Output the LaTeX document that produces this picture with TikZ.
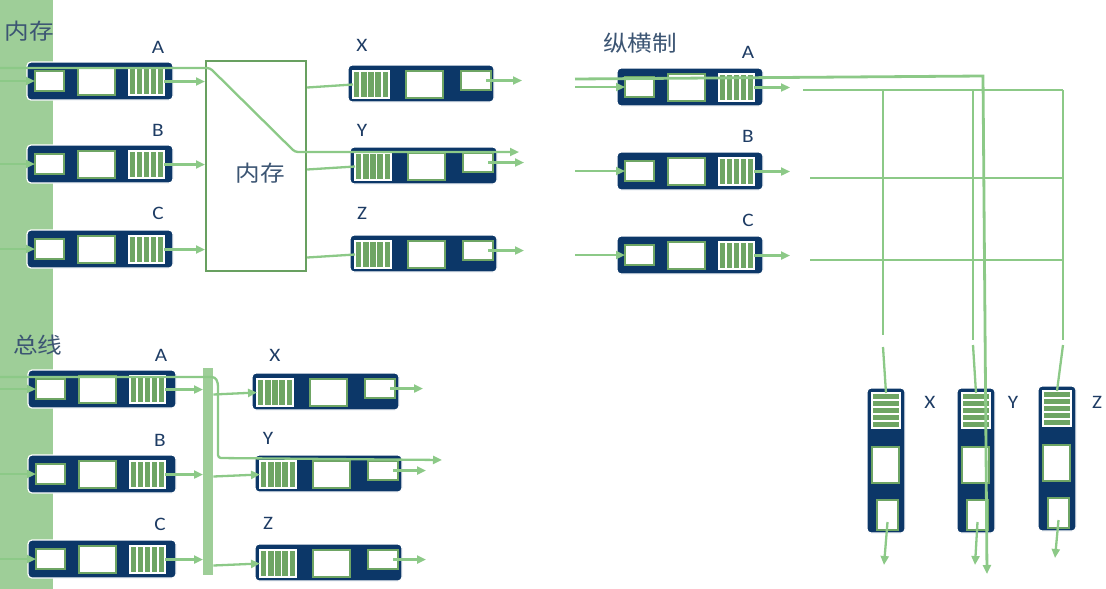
\documentclass[tikz,border=0pt]{standalone}
\usepackage{fontspec}
\setmainfont{Carlito}
\newfontfamily\cjk{Noto Sans CJK SC}
\usetikzlibrary{arrows.meta,calc}
\definecolor{navy}{RGB}{12,55,104}
\definecolor{lgreen}{RGB}{140,201,135}
\definecolor{strip}{RGB}{158,206,152}
\definecolor{dgreen}{RGB}{104,160,96}
\definecolor{sgreen}{RGB}{110,165,100}
\definecolor{txt}{RGB}{30,60,100}
\definecolor{cjktxt}{RGB}{60,85,115}
\newcommand{\wide}[1]{\scalebox{1.12}[1]{#1}}
\tikzset{
 unitbox/.style={fill=navy, draw=white, line width=1.2pt, rounded corners=4pt, inner sep=0, outer sep=0, anchor=north west},
 whitebox/.style={fill=white, draw=sgreen, line width=2pt, inner sep=0, outer sep=0, anchor=north west},
 stripebox/.style={fill=sgreen, draw=white, line width=1.8pt, inner sep=0, outer sep=0, anchor=north west},
 conn/.style={draw=lgreen, line width=2.3pt},
 arr/.style={conn, -{Triangle[length=9pt,width=8pt]}},
 gridline/.style={draw=lgreen, line width=1.8pt},
 lbl/.style={text=txt, font=\fontsize{19}{19}\selectfont, inner sep=0},
 cjklbl/.style={text=cjktxt, font=\cjk\fontsize{22}{22}\selectfont, inner sep=0},
}
\newcommand{\stripesV}[1]{\foreach \i in {1,...,4}{\draw[white,line width=1.7pt] ($(#1.north west)!\i/5!(#1.north east)$) -- ($(#1.south west)!\i/5!(#1.south east)$);}}
\newcommand{\stripesH}[1]{\foreach \i in {1,...,4}{\draw[white,line width=1.7pt] ($(#1.north west)!\i/5!(#1.south west)$) -- ($(#1.north east)!\i/5!(#1.south east)$);}}
\newcommand{\hin}[4]{%
 \node[unitbox, minimum width=#4pt, minimum height=38pt] (#1) at (#2,#3) {};
 \node[whitebox, minimum width=29pt, minimum height=20pt] (#1s) at (#2+8,#3+9) {};
 \node[whitebox, minimum width=37pt, minimum height=27pt] (#1m) at (#2+51,#3+6) {};
 \node[stripebox, minimum width=35pt, minimum height=27pt] (#1t) at (#2+102,#3+6) {};
 \stripesV{#1t}}
\newcommand{\hout}[4]{%
 \node[unitbox, minimum width=#4pt, minimum height=37pt] (#1) at (#2,#3) {};
 \node[stripebox, minimum width=36pt, minimum height=27pt] (#1t) at (#2+5,#3+6) {};
 \node[whitebox, minimum width=37pt, minimum height=27pt] (#1m) at (#2+58,#3+6) {};
 \node[whitebox, minimum width=30pt, minimum height=19pt] (#1s) at (#2+113,#3+6) {};
 \stripesV{#1t}}
\newcommand{\vout}[3]{%
 \node[unitbox, minimum width=38pt, minimum height=145pt] (#1) at (#2,#3) {};
 \node[stripebox, minimum width=28pt, minimum height=35pt] (#1t) at (#2+5,#3+5) {};
 \node[whitebox, minimum width=27pt, minimum height=36pt] (#1m) at (#2+5,#3+59) {};
 \node[whitebox, minimum width=21pt, minimum height=30pt] (#1s) at (#2+10,#3+112) {};
 \stripesH{#1t}}
\begin{document}
\begin{tikzpicture}[x=1pt,y=-1pt]
\useasboundingbox (0,0) rectangle (1106,589);
\fill[strip] (0,0) rectangle (53,589);
\coordinate (edgeL) at (0,0);
% ---------- top-left: memory switch ----------
\node[cjklbl] (tTitle) at (29,31) {\wide{内存}};
\hin{tA}{27}{62}{146}
\hin{tB}{27}{145}{146}
\hin{tC}{27}{230}{146}
\node[lbl] (tAl) at (158,47) {\wide{A}};
\node[lbl] (tBl) at (158,130) {\wide{B}};
\node[lbl] (tCl) at (158,213) {\wide{C}};
\node[draw=dgreen, line width=2.2pt, minimum width=100pt, minimum height=210pt, anchor=north west, inner sep=0] (mem) at (205,60) {};
\node[cjklbl] (memtxt) at (260,173) {\wide{内存}};
\hout{mX}{348}{65}{146}
\hout{mY}{350}{147}{147}
\hout{mZ}{350}{235}{147}
\node[lbl] (mXl) at (362,45) {\wide{X}};
\node[lbl] (mYl) at (362,130) {\wide{Y}};
\node[lbl] (mZl) at (362,213) {\wide{Z}};
\foreach \u in {tA,tB,tC}{
 \draw[arr] (edgeL |- \u s.west) -- (\u s.west);
 \draw[arr] (\u t.east) -- (mem.west |- \u t.east);}
\foreach \u in {mX,mY,mZ}{
 \draw[conn] ($(mem.east |- \u t.west)+(0,3)$) -- (\u t.west);
 \draw[arr] ($(\u s.east)+(-5,0)$) -- +(36,0);}
\coordinate (tl1) at (0,68);
\coordinate (tl2) at (210,68);
\coordinate (tl3) at (295,152);
\coordinate (tl4) at (519,152);
\draw[arr, rounded corners=3pt] (tl1) -- (tl2) -- (tl3) -- (tl4);
% ---------- crossbar ----------
\node[cjklbl] (cTitle) at (640,43) {\wide{纵横制}};
\hin{cA}{617}{68}{146}
\hin{cB}{617}{152}{146}
\hin{cC}{617}{236}{146}
\node[lbl] (cAl) at (748,52) {\wide{A}};
\node[lbl] (cBl) at (748,136) {\wide{B}};
\node[lbl] (cCl) at (748,220) {\wide{C}};
\coordinate (cin) at (575,0);
\foreach \u in {cA,cB,cC}{
 \draw[arr] (cin |- \u s.west) -- (\u s.west);
 \draw[arr] (\u t.east) -- +(36,0);}
% grid
\coordinate (rA1) at (803,90);  \coordinate (rA2) at (1063,90);
\coordinate (rB1) at (810,178); \coordinate (rB2) at (1063,178);
\coordinate (rC1) at (810,260); \coordinate (rC2) at (1063,260);
\draw[gridline] (rA1) -- (rA2);
\draw[gridline] (rB1) -- (rB2);
\draw[gridline] (rC1) -- (rC2);
\coordinate (kX1) at (883,90);  \coordinate (kX2) at (883,335); \coordinate (kX3) at (883,347);
\coordinate (kY1) at (973,90);  \coordinate (kY2) at (973,340); \coordinate (kY3) at (973,345);
\coordinate (kZ1) at (1063,90); \coordinate (kZ2) at (1063,340); \coordinate (kZ3) at (1063,345);
\draw[gridline] (kX1) -- (kX2);
\draw[gridline] (kY1) -- (kY2);
\draw[gridline] (kZ1) -- (kZ2);
\vout{vX}{867}{388}
\vout{vY}{957}{388}
\vout{vZ}{1038}{386}
\node[lbl] (vXl) at (930,402) {\wide{X}};
\node[lbl] (vYl) at (1013,402) {\wide{Y}};
\node[lbl] (vZl) at (1097,402) {\wide{Z}};
\draw[conn] (kX3) -- (vXt.north);
\draw[conn] (kY3) -- (vYt.north);
\draw[conn] (kZ3) -- (vZt.north);
\coordinate (oX) at (884,565);
\coordinate (oY) at (975,565);
\coordinate (oZ) at (1055,558);
\draw[arr] ($(vXs.south)+(0,-8)$) -- (oX);
\draw[arr] ($(vYs.south)+(0,-8)$) -- (oY);
\draw[arr] ($(vZs.south)+(0,-8)$) -- (oZ);
\coordinate (cl1) at (575,79);
\coordinate (cl2) at (983,76);
\coordinate (cl3) at (987,574);
\draw[arr, line width=2.8pt] (cl1) -- (cl2) -- (cl3);
% ---------- bus ----------
\node[cjklbl] (bTitle) at (38,345) {\wide{总线}};
\hin{bA}{28}{370}{148}
\hin{bB}{28}{455}{148}
\hin{bC}{28}{540}{148}
\node[lbl] (bAl) at (161,355) {\wide{A}};
\node[lbl] (bBl) at (160,440) {\wide{B}};
\node[lbl] (bCl) at (160,524) {\wide{C}};
\node[fill=strip, minimum width=10pt, minimum height=207pt, anchor=north west, inner sep=0] (bus) at (203,368) {};
\hout{bX}{252}{373}{147}
\hout{bY}{255}{455}{147}
\hout{bZ}{255}{544}{147}
\node[lbl] (bXl) at (275,355) {\wide{X}};
\node[lbl] (bYl) at (268,438) {\wide{Y}};
\node[lbl] (bZl) at (268,523) {\wide{Z}};
\foreach \u in {bA,bB,bC}{
 \draw[arr] (edgeL |- \u s.west) -- (\u s.west);
 \draw[arr] (\u t.east) -- (bus.west |- \u t.east);}
\foreach \u in {bX,bY,bZ}{
 \draw[arr] ($(bus.east |- \u t.west)+(0,2)$) -- (\u t.west);
 \draw[arr] ($(\u s.east)+(-5,0)$) -- +(33,0);}
\coordinate (bl1) at (0,377);
\coordinate (bl2) at (215,377);
\coordinate (bl3) at (218,383);
\coordinate (bl4) at (218,458);
\coordinate (bl5) at (442,460);
\draw[arr, rounded corners=3pt] (bl1) -- (bl2) -- (bl3) -- (bl4) -- (bl5);
\end{tikzpicture}
\end{document}
